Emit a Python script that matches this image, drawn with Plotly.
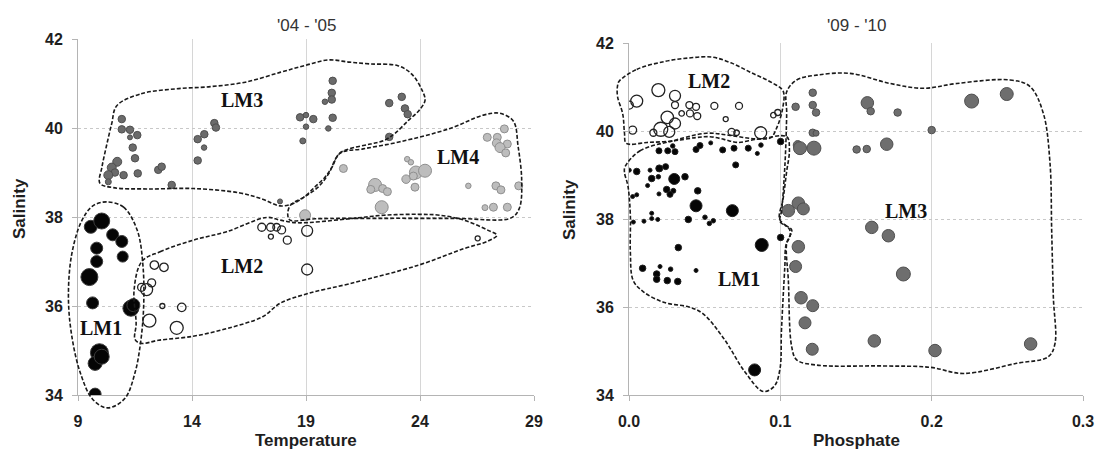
import plotly.graph_objects as go

# ---------------- data: left panel '04 - '05 (Temperature vs Salinity) ----------------
L_LM1_T = [9.56, 10.04, 10.52, 10.92, 9.82, 10.96, 9.82, 9.50, 9.64, 11.32, 11.43, 9.94, 9.75, 10.04, 9.75]
L_LM1_S = [37.78, 37.91, 37.60, 37.45, 37.30, 37.11, 37.00, 36.65, 36.07, 35.95, 36.02, 34.95, 34.71, 34.86, 34.02]
L_LM1_Z = [13, 16, 12, 12, 12, 11, 12, 17, 12, 16, 13, 18, 14, 15, 12]

L_LM2_T = [12.01, 11.79, 12.23, 12.35, 12.77, 12.70, 13.55, 12.13, 13.33, 17.06, 17.45, 17.71, 17.46, 17.93, 18.18, 19.05, 19.05, 26.53]
L_LM2_S = [36.37, 36.42, 36.52, 36.92, 36.87, 36.00, 35.97, 35.67, 35.51, 37.77, 37.77, 37.77, 37.56, 37.71, 37.48, 37.69, 36.82, 37.52]
L_LM2_Z = [12, 8, 8, 8.5, 8.5, 5, 8.5, 13, 13, 8, 8, 7.5, 5, 8, 8, 11, 11, 5]

L_LM3_T = [10.92, 10.92, 11.28, 11.28, 11.60, 11.40, 11.50, 11.62, 11.00, 10.72, 10.48, 10.62, 10.33, 10.33,
           12.52, 12.67, 13.11, 14.25, 14.25, 14.54, 14.53, 14.98, 15.05,
           18.74, 19.00, 19.00, 18.86, 19.32, 20.17, 20.13, 20.13, 19.83, 20.17, 19.98,
           22.65, 22.65, 23.20, 23.34, 23.46, 17.86]
L_LM3_S = [40.20, 39.97, 39.96, 39.79, 39.84, 39.56, 39.32, 38.98, 38.94, 39.24, 39.11, 39.00, 38.94, 38.79,
           39.06, 39.13, 38.72, 39.27, 39.75, 39.86, 39.56, 40.11, 40.01,
           40.24, 40.29, 40.03, 39.71, 40.20, 41.06, 40.79, 40.64, 40.59, 40.23, 39.99,
           40.56, 39.80, 40.70, 40.44, 40.31, 38.35]
L_LM3_Z = [7.5, 7.5, 7.5, 5, 7.5, 7.5, 7.5, 7.5, 7.5, 9, 9, 7.5, 9, 6,
           7.5, 7.5, 7.5, 7.5, 7.5, 7.5, 5.5, 7.5, 7.5,
           7.5, 5.5, 5.5, 6, 7.5, 7.5, 7.5, 7.5, 5.5, 7.5, 5.5,
           7.5, 7.5, 7.5, 7.5, 7.5, 5]

L_LM4_T = [20.64, 22.03, 21.84, 22.36, 22.57, 22.32, 23.44, 23.60, 23.39, 23.82, 24.22, 23.71, 23.78, 26.12,
           27.70, 26.95, 27.39, 27.36, 27.83, 27.51, 27.76, 27.33, 27.55, 28.33, 26.85, 27.22, 27.83, 18.96]
L_LM4_S = [39.09, 38.72, 38.62, 38.64, 38.57, 38.22, 39.30, 39.23, 38.85, 39.00, 39.04, 38.92, 38.67, 38.70,
           39.98, 39.79, 39.79, 39.66, 39.64, 39.56, 39.44, 38.70, 38.61, 38.70, 38.21, 38.22, 38.22, 38.04]
L_LM4_Z = [8, 13, 8, 8, 8, 13, 5.5, 5.5, 8.5, 13, 13, 8, 8, 5.5,
           8, 8, 8, 8.5, 8, 10, 8, 8, 8, 8, 6, 8, 8, 11]

# group outlines (left panel), data coordinates
L_OUT1_T = [10.25, 11.00, 11.60, 11.85, 11.88, 11.75, 11.50, 11.05, 10.30, 9.65, 9.10, 8.72, 8.58, 8.72, 9.15, 9.65, 10.25]
L_OUT1_S = [38.34, 38.22, 37.70, 36.90, 36.00, 35.20, 34.50, 33.92, 33.71, 33.90, 34.50, 35.35, 36.20, 37.15, 37.90, 38.25, 38.34]
L_OUT2_T = [11.80, 12.60, 14.06, 15.52, 17.28, 17.86, 18.62, 20.90, 22.42, 23.95, 24.86, 25.93, 26.99, 27.37, 26.99,
            25.93, 23.95, 20.90, 19.08, 17.86, 17.10, 15.58, 14.05, 12.53, 11.77, 11.50, 11.55, 11.46, 11.80]
L_OUT2_S = [37.00, 37.22, 37.48, 37.67, 37.99, 37.93, 37.87, 37.96, 38.04, 38.06, 38.04, 37.93, 37.70, 37.59, 37.46,
            37.29, 36.92, 36.50, 36.28, 36.06, 35.76, 35.50, 35.32, 35.23, 35.16, 35.25, 35.60, 36.36, 37.00]
L_OUT3_T = [10.70, 11.77, 13.29, 14.81, 16.34, 17.86, 18.92, 19.99, 20.90, 21.82, 23.03, 23.64, 24.10, 24.22, 23.95,
            23.49, 22.88, 22.42, 21.82, 20.90, 20.45, 20.14, 19.84, 19.38, 18.92, 18.47, 17.86, 17.10, 16.10, 14.06,
            12.01, 10.54, 9.96, 10.05, 10.25, 10.48, 10.70]
L_OUT3_S = [40.50, 40.77, 40.88, 40.93, 41.03, 41.25, 41.40, 41.53, 41.48, 41.44, 41.40, 41.21, 40.84, 40.62, 40.39,
            40.17, 39.87, 39.72, 39.64, 39.53, 39.42, 39.12, 38.90, 38.67, 38.45, 38.31, 38.25, 38.40, 38.54, 38.64,
            38.63, 38.66, 38.76, 39.12, 39.60, 40.10, 40.50]
L_OUT4_T = [18.20, 18.31, 18.92, 19.53, 19.99, 20.49, 21.50, 23.12, 25.32, 26.78, 27.51, 28.10, 28.30, 28.46, 28.36,
            28.00, 25.50, 22.42, 19.40, 18.30, 18.20]
L_OUT4_S = [38.05, 38.26, 38.45, 38.67, 38.97, 39.43, 39.53, 39.69, 39.99, 40.29, 40.33, 40.15, 39.60, 38.83, 38.20,
            37.98, 37.97, 37.97, 37.96, 37.93, 38.05]

L_LABELS = ["LM1", "LM2", "LM3", "LM4"]
L_LABEL_T = [10.02, 16.21, 16.21, 25.65]
L_LABEL_S = [35.50, 36.90, 40.62, 39.35]

# ---------------- data: right panel '09 - '10 (Phosphate vs Salinity) ----------------
R_LM1_P = [0.0198, 0.0256, 0.0304, 0.0289, 0.0443, 0.0469, 0.0540, 0.0619, 0.0694, 0.0788, 0.0848, 0.0872, 0.1002,
           0.0705, 0.0002, 0.0051, 0.0139, 0.0200, 0.0242, 0.0150, 0.0194, 0.0299, 0.0370, 0.0123, 0.0249, 0.0293,
           0.0271, 0.0198, 0.0024, 0.0051, 0.0454, 0.0443, 0.0683, 0.0150, 0.0029, 0.0099, 0.0150, 0.0190, 0.0392,
           0.0502, 0.0531, 0.0557, 0.0877, 0.1002, 0.0326, 0.0090, 0.0205, 0.0275, 0.0183, 0.0183, 0.0253, 0.0322,
           0.0443, 0.0830]
R_LM1_S = [39.55, 39.55, 39.53, 39.66, 39.58, 39.67, 39.73, 39.57, 39.61, 39.61, 39.49, 39.68, 39.76,
           39.23, 39.11, 39.08, 39.11, 39.15, 39.19, 38.92, 38.96, 38.91, 38.96, 38.76, 38.67, 38.64,
           38.56, 38.57, 38.51, 38.55, 38.64, 38.30, 38.19, 38.13, 37.93, 37.95, 38.01, 37.99, 37.99,
           38.04, 37.90, 37.96, 37.41, 37.58, 37.35, 36.88, 36.92, 36.86, 36.75, 36.63, 36.60, 36.58,
           36.83, 34.57]
R_LM1_Z = [6, 6, 6, 4.5, 6, 6, 4, 6, 6, 6, 4, 4.5, 6.5,
           6, 4, 6.5, 4, 7, 6, 6.5, 4.5, 11, 6.5, 4, 6.5, 5,
           6, 4, 4, 4, 6.5, 12, 12, 4, 4, 4, 4, 4, 6.5,
           4.5, 4.5, 4.5, 13, 6.5, 6.5, 6.5, 4, 4.5, 6.5, 6.5, 6.5, 6.5,
           4, 12]

R_LM2_P = [0.0024, 0.0051, 0.0002, 0.0194, 0.0304, 0.0304, 0.0253, 0.0304, 0.0210, 0.0266, 0.0161, 0.0348,
           0.0399, 0.0443, 0.0403, 0.0451, 0.0564, 0.0639, 0.0727, 0.0678, 0.0711, 0.0870, 0.0954, 0.0983]
R_LM2_S = [40.02, 40.68, 40.59, 40.93, 40.80, 40.59, 40.31, 40.17, 40.04, 39.98, 39.96, 40.40,
           40.59, 40.55, 40.40, 40.34, 40.57, 40.27, 40.57, 39.98, 39.96, 39.96, 40.36, 40.42]
R_LM2_Z = [8, 12, 8, 13, 11, 7, 12.5, 11, 14, 11, 7, 5.5,
           7, 7, 7, 7, 7, 5, 7, 7, 5.5, 12, 5.5, 6]

R_LM3_P = [0.1214, 0.1214, 0.1236, 0.1101, 0.1214, 0.1236, 0.1115, 0.1130, 0.1222, 0.1575, 0.1597, 0.1775, 0.2000,
           0.1504, 0.1571, 0.1703, 0.2264, 0.2496, 0.1119, 0.1053, 0.1152, 0.1604, 0.1714, 0.1119, 0.1101,
           0.1813, 0.1137, 0.1214, 0.1163, 0.1211, 0.1621, 0.2022, 0.2654]
R_LM3_S = [40.87, 40.59, 40.42, 40.55, 39.96, 39.95, 39.68, 39.61, 39.61, 40.64, 40.45, 40.42, 40.02,
           39.58, 39.59, 39.70, 40.68, 40.84, 38.36, 38.19, 38.23, 37.81, 37.62, 37.37, 36.92,
           36.75, 36.21, 36.03, 35.64, 35.04, 35.23, 35.01, 35.16]
R_LM3_Z = [7.5, 7.5, 7.5, 7.5, 7.5, 6, 9, 13, 14, 12.5, 7.5, 7.5, 7.5,
           7.5, 7.5, 12.5, 14, 13, 12.5, 12.5, 12, 12.5, 12.5, 12.5, 12,
           14, 12.5, 12, 12, 12, 12.5, 12.5, 12.5]

# group outlines (right panel)
R_OUT1_P = [-0.0026, 0.0073, 0.0293, 0.0513, 0.0667, 0.0844, 0.1042, 0.1060, 0.1041, 0.1018, 0.0995, 0.1060, 0.1065,
            0.1037, 0.1030, 0.1018, 0.1007, 0.0998, 0.0960, 0.0887, 0.0765, 0.0627, 0.0488, 0.0396, 0.0235, 0.0097,
            0.0028, 0.0009, 0.0009, -0.0007, -0.0030, -0.0026]
R_OUT1_S = [39.19, 39.55, 39.78, 39.95, 39.90, 39.82, 39.87, 39.58, 39.06, 38.45, 38.00, 37.77, 37.62,
            37.40, 36.94, 36.19, 35.43, 34.60, 34.20, 34.08, 34.53, 35.28, 35.85, 36.00, 36.10, 36.34,
            36.60, 37.25, 38.08, 38.75, 39.06, 39.19]
R_OUT2_P = [-0.0065, 0.0051, 0.0235, 0.0396, 0.0546, 0.0673, 0.0811, 0.0949, 0.1018, 0.1014, 0.0972, 0.0938, 0.0834,
            0.0719, 0.0627, 0.0535, 0.0442, 0.0281, 0.0120, -0.0018, -0.0030, -0.0041, -0.0076, -0.0076, -0.0065]
R_OUT2_S = [41.13, 41.40, 41.58, 41.66, 41.68, 41.55, 41.32, 41.09, 40.91, 40.49, 40.04, 39.85, 39.81,
            39.74, 39.81, 39.87, 39.85, 39.77, 39.74, 39.72, 39.96, 40.38, 40.79, 41.02, 41.13]
R_OUT3_P = [0.1042, 0.1108, 0.1240, 0.1460, 0.1725, 0.1945, 0.2166, 0.2518, 0.2650, 0.2738, 0.2782, 0.2793, 0.2804,
            0.2815, 0.2771, 0.2562, 0.2209, 0.1989, 0.1680, 0.1240, 0.1108, 0.1075, 0.1053, 0.1042, 0.1075, 0.0998,
            0.1009, 0.1031, 0.1042, 0.1042]
R_OUT3_S = [40.89, 41.16, 41.27, 41.31, 41.08, 40.97, 41.08, 41.16, 41.01, 40.40, 39.27, 37.75, 36.23,
            35.17, 34.87, 34.72, 34.49, 34.63, 34.66, 34.68, 34.80, 35.10, 36.61, 37.45, 37.75, 37.94,
            38.20, 39.27, 40.40, 40.89]

R_LABELS = ["LM1", "LM2", "LM3"]
R_LABEL_P = [0.0726, 0.0528, 0.1830]
R_LABEL_S = [36.64, 41.13, 38.19]

X_TICKS_L = [9, 14, 19, 24, 29]
X_TICKS_R = [0.0, 0.1, 0.2, 0.3]
Y_TICKS = [34, 36, 38, 40, 42]

# ---------------- layout geometry ----------------
W, H = 1097, 452
LX = (78, 534); LY = (395, 39)
RX = (629, 1083); RY = (395, 43)
XR_L = [9, 29]; XR_R = [0.0, 0.3]; YR = [34, 42]


def dom_x(px):
    return [px[0] / W, px[1] / W]


def dom_y(py):
    return [1 - py[0] / H, 1 - py[1] / H]


def overlay_range(rng, dom, odom):
    span = (rng[1] - rng[0]) / (dom[1] - dom[0])
    return [rng[0] + (odom[0] - dom[0]) * span, rng[0] + (odom[1] - dom[0]) * span]


fig = go.Figure()

TICKFONT = dict(family="Liberation Sans, Arial", size=16, color="#1e1e1e", weight="bold")


def add_markers(x, y, s, fill, edge, xa, ya, lw=1):
    fig.add_trace(go.Scatter(x=x, y=y, mode="markers", xaxis=xa, yaxis=ya, showlegend=False,
                             marker=dict(size=s, color=fill, line=dict(color=edge, width=lw), opacity=1)))


def add_outline(x, y, xa, ya):
    fig.add_trace(go.Scatter(x=x, y=y, mode="lines", xaxis=xa, yaxis=ya, showlegend=False,
                             line=dict(color="#1a1a1a", width=1.6, dash="4px,2px", shape="spline", smoothing=1.0),
                             hoverinfo="skip"))


# left panel markers
add_markers(L_LM3_T, L_LM3_S, L_LM3_Z, "#6b6b6b", "#4f4f4f", "x", "y")
add_markers(L_LM4_T, L_LM4_S, L_LM4_Z, "#bdbdbd", "#8f8f8f", "x", "y")
add_markers(L_LM2_T, L_LM2_S, L_LM2_Z, "rgba(255,255,255,0)", "#222222", "x", "y", 1.3)
add_markers(L_LM1_T, L_LM1_S, L_LM1_Z, "#050505", "#3a3a3a", "x", "y")

# right panel markers
add_markers(R_LM3_P, R_LM3_S, R_LM3_Z, "#6e6e6e", "#505050", "x2", "y2")
add_markers(R_LM2_P, R_LM2_S, R_LM2_Z, "rgba(255,255,255,0)", "#222222", "x2", "y2", 1.3)
add_markers(R_LM1_P, R_LM1_S, R_LM1_Z, "#050505", "#202020", "x2", "y2")

# outlines on unclipped overlay axes sharing the same scale
for ox, oy in [(L_OUT1_T, L_OUT1_S), (L_OUT2_T, L_OUT2_S), (L_OUT3_T, L_OUT3_S), (L_OUT4_T, L_OUT4_S)]:
    add_outline(ox, oy, "x3", "y3")
for ox, oy in [(R_OUT1_P, R_OUT1_S), (R_OUT2_P, R_OUT2_S), (R_OUT3_P, R_OUT3_S)]:
    add_outline(ox, oy, "x4", "y4")

axis_common = dict(showline=True, linecolor="#b4b4b4", linewidth=1, ticks="outside", ticklen=5,
                   tickcolor="#b4b4b4", tickfont=TICKFONT, zeroline=False, automargin=False)

dLX, dLY, dRX, dRY = dom_x(LX), dom_y(LY), dom_x(RX), dom_y(RY)
O3X, O3Y, O4X, O4Y = [0, 0.5], [0, 1], [0.5, 1], [0, 1]

fig.update_layout(
    width=W, height=H, margin=dict(l=0, r=0, t=0, b=0),
    paper_bgcolor="white", plot_bgcolor="rgba(0,0,0,0)",
    xaxis=dict(domain=dLX, range=XR_L, tickvals=X_TICKS_L, anchor="y", showgrid=True,
               gridcolor="#d6d6d6", gridwidth=1, ticklabelstandoff=7, **axis_common),
    yaxis=dict(domain=dLY, range=YR, tickvals=Y_TICKS, anchor="x", showgrid=True,
               gridcolor="#c8c8c8", griddash="dot", gridwidth=1, ticklabelstandoff=6, **axis_common),
    xaxis2=dict(domain=dRX, range=XR_R, tickvals=X_TICKS_R, tickformat=".1f", anchor="y2", showgrid=True,
                gridcolor="#d6d6d6", gridwidth=1, ticklabelstandoff=7, **axis_common),
    yaxis2=dict(domain=dRY, range=YR, tickvals=Y_TICKS, anchor="x2", showgrid=True,
                gridcolor="#c8c8c8", griddash="dot", gridwidth=1, ticklabelstandoff=6, **axis_common),
    xaxis3=dict(domain=O3X, range=overlay_range(XR_L, dLX, O3X), visible=False, anchor="y3"),
    yaxis3=dict(domain=O3Y, range=overlay_range(YR, dLY, O3Y), visible=False, anchor="x3"),
    xaxis4=dict(domain=O4X, range=overlay_range(XR_R, dRX, O4X), visible=False, anchor="y4"),
    yaxis4=dict(domain=O4Y, range=overlay_range(YR, dRY, O4Y), visible=False, anchor="x4"),
)

ann = []
LBLFONT = dict(family="Liberation Serif, Times New Roman", size=20, color="#111111", weight="bold")
for t, xv, yv in zip(L_LABELS, L_LABEL_T, L_LABEL_S):
    ann.append(dict(text=t, x=xv, y=yv, xref="x", yref="y", showarrow=False, font=LBLFONT))
for t, xv, yv in zip(R_LABELS, R_LABEL_P, R_LABEL_S):
    ann.append(dict(text=t, x=xv, y=yv, xref="x2", yref="y2", showarrow=False, font=LBLFONT))

TITLEFONT = dict(family="Liberation Sans, Arial", size=17, color="#333333")
AXFONT = dict(family="Liberation Sans, Arial", size=17, color="#1e1e1e", weight="bold")
lcx = (LX[0] + LX[1]) / 2 / W
rcx = (RX[0] + RX[1]) / 2 / W
PA = dict(xref="paper", yref="paper", showarrow=False, xanchor="center", yanchor="middle")
ann += [
    dict(text="'04 - '05", x=lcx, y=1 - 25 / H, font=TITLEFONT, **PA),
    dict(text="'09 - '10", x=rcx, y=1 - 25 / H, font=TITLEFONT, **PA),
    dict(text="Temperature", x=lcx, y=1 - 440 / H, font=AXFONT, **PA),
    dict(text="Phosphate", x=rcx, y=1 - 440 / H, font=AXFONT, **PA),
    dict(text="Salinity", x=19 / W, y=1 - 209 / H, textangle=-90, font=AXFONT, **PA),
    dict(text="Salinity", x=569 / W, y=1 - 209 / H, textangle=-90, font=AXFONT, **PA),
]
fig.update_layout(annotations=ann)

fig.write_html("out.html", config={"displayModeBar": False},
               post_script="document.body.style.margin='0';document.body.style.padding='0';"
                           "document.body.style.overflow='hidden';")
